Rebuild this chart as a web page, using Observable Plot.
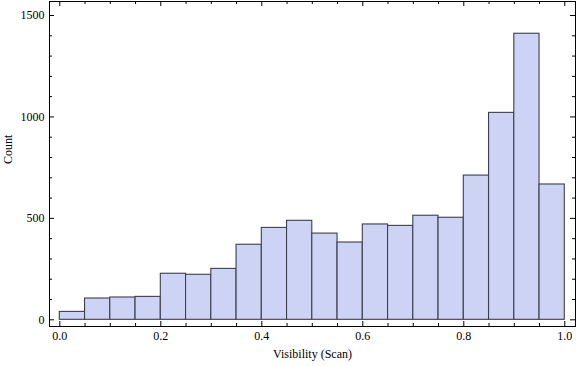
<!DOCTYPE html>
<html>
<head>
<meta charset="utf-8">
<script src="https://cdn.jsdelivr.net/npm/d3@7"></script>
<script src="https://cdn.jsdelivr.net/npm/@observablehq/plot@0.6"></script>
<style>
  html, body { margin: 0; padding: 0; background: #fff; }
  #chart svg { display: block; }
</style>
</head>
<body>
<div id="chart"></div>
<script>
const binStarts = [0.00, 0.05, 0.10, 0.15, 0.20, 0.25, 0.30, 0.35, 0.40, 0.45,
                   0.50, 0.55, 0.60, 0.65, 0.70, 0.75, 0.80, 0.85, 0.90, 0.95];
const counts = [39, 105, 110, 113, 227, 222, 251, 370, 453, 488,
                425, 381, 470, 463, 513, 503, 711, 1020, 1410, 667];
const binWidth = 0.05;
const xMajor = [0.0, 0.2, 0.4, 0.6, 0.8, 1.0];
const xMinor = [0.05, 0.1, 0.15, 0.25, 0.3, 0.35, 0.45, 0.5, 0.55, 0.65, 0.7, 0.75, 0.85, 0.9, 0.95];
const yMajor = [0, 500, 1000, 1500];
const yMinor = [100, 200, 300, 400, 600, 700, 800, 900, 1100, 1200, 1300, 1400];

const bins = binStarts.map((s, i) => ({x1: s, x2: s + binWidth, count: counts[i]}));

const W = 576, H = 366;
const mT = 1, mR = 1, mB = 40, mL = 49;
const innerH = H - mT - mB;
const innerW = W - mL - mR;
const font = "'Liberation Serif', 'Times New Roman', serif";

const chart = Plot.plot({
  width: W,
  height: H,
  marginTop: mT, marginRight: mR, marginBottom: mB, marginLeft: mL,
  style: {fontFamily: font, fontSize: "12px", color: "#000", background: "#fff"},
  x: {domain: [-0.0204, 1.0212]},
  y: {domain: [-33, 1569]},
  marks: [
    Plot.rectY(bins, {x1: "x1", x2: "x2", y1: 0, y2: "count", fill: "#ccd3f5", stroke: "#3c3f4c", strokeWidth: 1.1}),
    // bottom ticks (inward)
    Plot.tickX(xMajor, {x: d => d, insetTop: innerH - 5, stroke: "#000"}),
    Plot.tickX(xMinor, {x: d => d, insetTop: innerH - 3, stroke: "#000"}),
    // top ticks (inward)
    Plot.tickX(xMajor, {x: d => d, insetBottom: innerH - 5, stroke: "#000"}),
    Plot.tickX(xMinor, {x: d => d, insetBottom: innerH - 3, stroke: "#000"}),
    // left ticks (inward)
    Plot.tickY(yMajor, {y: d => d, insetRight: innerW - 5, stroke: "#000"}),
    Plot.tickY(yMinor, {y: d => d, insetRight: innerW - 3, stroke: "#000"}),
    // right ticks (inward)
    Plot.tickY(yMajor, {y: d => d, insetLeft: innerW - 5, stroke: "#000"}),
    Plot.tickY(yMinor, {y: d => d, insetLeft: innerW - 3, stroke: "#000"}),
    Plot.axisX(xMajor, {tickSize: 0, tickPadding: 5, tickFormat: d3.format(".1f"), label: null, fontSize: 12}),
    Plot.axisY(yMajor, {tickSize: 0, tickPadding: 5, tickFormat: d => String(d), label: null, fontSize: 12}),
    Plot.text(["Visibility (Scan)"], {frameAnchor: "bottom", dy: 31, fontSize: 12, fill: "#000"}),
    Plot.text(["Count"], {frameAnchor: "left", dx: -41, rotate: -90, fontSize: 12, fill: "#000"}),
    Plot.frame({stroke: "#000", strokeWidth: 1})
  ]
});
document.getElementById("chart").appendChild(chart);
</script>
</body>
</html>
